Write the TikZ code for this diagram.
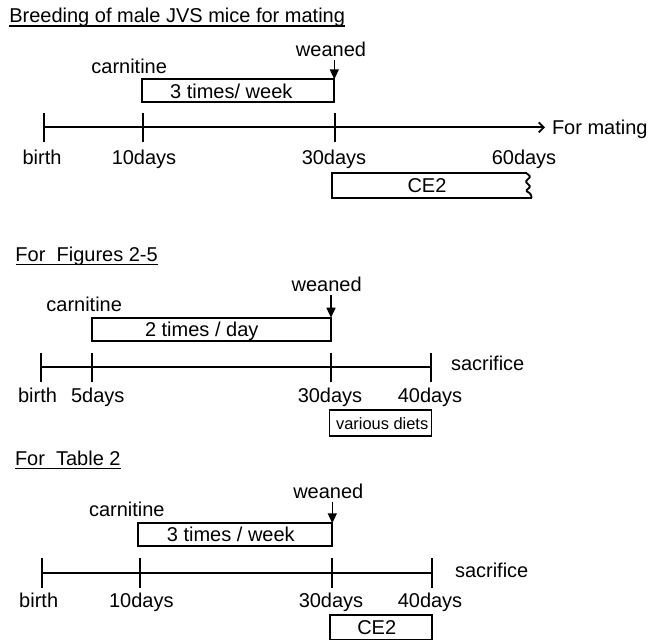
\documentclass[tikz,border=0pt]{standalone}
\usepackage{fontspec}
\setmainfont{Liberation Sans}
\usetikzlibrary{arrows.meta,calc}
\begin{document}
\begin{tikzpicture}[x=1pt,y=-1pt,
  every node/.style={inner sep=0pt, outer sep=0pt, font=\fontsize{20}{24}\selectfont},
  lbl/.style={anchor=base},
  ttl/.style={anchor=base west},
  small/.style={font=\fontsize{16.4}{20}\selectfont},
  ln/.style={line width=1.8pt},
  boxline/.style={line width=1.8pt},
  bx/.style={draw, line width=1.8pt, anchor=north west},
  warrow/.style={line width=1.4pt, -{Triangle[length=10pt,width=9pt]}},
  uline/.style={line width=1.2pt}]
\useasboundingbox (0,0) rectangle (650,641);
\newcommand\tickat[1]{\draw[ln] ($(#1)+(0,-14.5)$) -- ($(#1)+(0,14.8)$);}

% ---------- Section 1 ----------
\node[ttl] (title1) at (9.3,22.7) {Breeding of male JVS mice for mating};
\draw[uline] ($(title1.base west)+(0,3.3)$) -- ($(title1.base east)+(0,3.3)$);
\node[lbl] (carn1) at (129.2,73.3) {carnitine};
\node[lbl] (wean1) at (331,56.7) {weaned};
\node[bx, minimum width=192.6pt, minimum height=22.4pt] (box1) at (141.7,79.3) {};
\node[lbl] (box1t) at (231.3,98.3) {3 times/ week};
\draw[warrow] ($(wean1.base -| box1.north east)+(0,3.5)$) -- (box1.north east);

\coordinate (s1a) at (44,127.3);
\coordinate (s1b) at (143,127.3);
\coordinate (s1c) at (335,127.3);
\coordinate (s1end) at (545,127.3);
\draw[ln, -{Straight Barb[length=5pt,width=10pt]}] (s1a) -- (s1end);
\tickat{s1a}\tickat{s1b}\tickat{s1c}
\node[anchor=base west] (mate1) at (552,134) {For mating};
\node[lbl] (birth1) at (42,164.5) {birth};
\node[lbl] (d10a) at (144,164.5) {10days};
\node[lbl] (d30a) at (334,164.5) {30days};
\node[lbl] (d60a) at (524,164.5) {60days};

\draw[boxline] (526.7,173.3) -- (332,173.3) -- (332,197.7) -- (531.7,197.7);
\draw[boxline, rounded corners=1.2pt] (526.7,173.3) -- (530.5,176.7) -- (525.5,181.7) -- (530.5,186.7) -- (525.8,190.7) -- (530.5,193.6) -- (531.7,197.7);
\node[lbl] (ce2a) at (427,192.5) {CE2};

% ---------- Section 2 ----------
\node[ttl] (title2) at (15.5,261) {For\ \ Figures 2-5};
\draw[uline] ($(title2.base west)+(0,3.3)$) -- ($(title2.base east)+(0,3.3)$);
\node[lbl] (carn2) at (84.2,311.7) {carnitine};
\node[lbl] (wean2) at (326.7,291.7) {weaned};
\node[bx, minimum width=239.3pt, minimum height=23.3pt] (box2) at (91.7,317.7) {};
\node[lbl] (box2t) at (201.7,336) {2 times / day};
\draw[warrow] ($(wean2.base -| box2.north east)+(0,3.5)$) -- (box2.north east);

\coordinate (s2a) at (41,367.3);
\coordinate (s2b) at (91.7,367.3);
\coordinate (s2c) at (331,367.3);
\coordinate (s2d) at (430.7,367.3);
\draw[ln] (s2a) -- (s2d);
\tickat{s2a}\tickat{s2b}\tickat{s2c}\tickat{s2d}
\node[anchor=base west] (sac2) at (451,370) {sacrifice};
\node[lbl] (birth2) at (37.5,402.7) {birth};
\node[lbl] (d5b) at (97.8,402.7) {5days};
\node[lbl] (d30b) at (330,402.7) {30days};
\node[lbl] (d40b) at (430,402.7) {40days};
\node[bx, line width=1.4pt, minimum width=102.4pt, minimum height=26pt] (vd) at (329.3,410) {};
\node[lbl, small] (vdt) at (382.2,429.3) {various diets};

% ---------- Section 3 ----------
\node[ttl] (title3) at (15,465.5) {For\ \ Table 2};
\draw[uline] ($(title3.base west)+(0,3.3)$) -- ($(title3.base east)+(0,3.3)$);
\node[lbl] (carn3) at (126.8,516.7) {carnitine};
\node[lbl] (wean3) at (328.3,498.3) {weaned};
\node[bx, minimum width=194pt, minimum height=22.7pt] (box3) at (138.3,523.3) {};
\node[lbl] (box3t) at (230.8,541.7) {3 times / week};
\draw[warrow] ($(wean3.base -| box3.north east)+(0,3.5)$) -- (box3.north east);

\coordinate (s3a) at (41.7,572.7);
\coordinate (s3b) at (140,572.7);
\coordinate (s3c) at (331.7,572.7);
\coordinate (s3d) at (431.7,572.7);
\draw[ln] (s3a) -- (s3d);
\tickat{s3a}\tickat{s3b}\tickat{s3c}\tickat{s3d}
\node[anchor=base west] (sac3) at (455,577) {sacrifice};
\node[lbl] (birth3) at (38.7,607.7) {birth};
\node[lbl] (d10c) at (141.3,607.7) {10days};
\node[lbl] (d30c) at (331,607.7) {30days};
\node[lbl] (d40c) at (430,607.7) {40days};
\node[bx, minimum width=102pt, minimum height=24.5pt] (ce2box) at (330,615) {};
\node[lbl] (ce2c) at (376.7,634.5) {CE2};
\end{tikzpicture}
\end{document}
